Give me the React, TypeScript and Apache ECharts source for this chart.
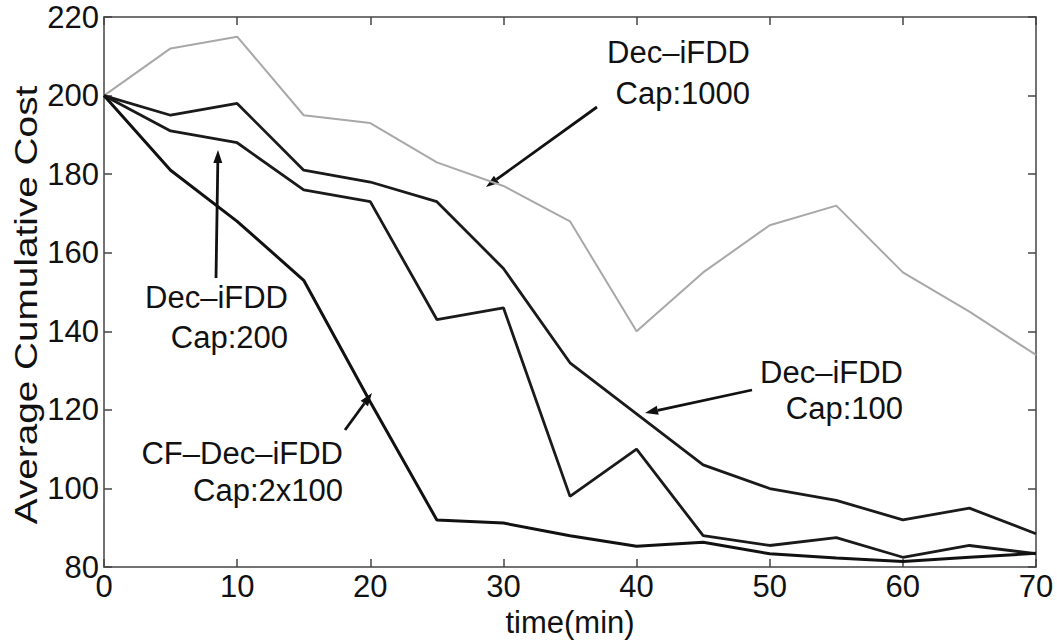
import React, { useEffect, useRef } from "react";
import * as echarts from "echarts";

const times = [0, 5, 10, 15, 20, 25, 30, 35, 40, 45, 50, 55, 60, 65, 70];
const cap1000 = [200, 212, 215, 195, 193, 183, 177, 168, 140, 155, 167, 172, 155, 145, 134];
const cap100 = [200, 195, 198, 181, 178, 173, 156, 132, 119, 106, 100, 97, 92, 95, 88.5];
const cap200 = [200, 191, 188, 176, 173, 143, 146, 98, 110, 88, 85.5, 87.5, 82.5, 85.5, 83.4];
const cf2x100 = [200, 181, 168, 153, 122, 92, 91.2, 88, 85.3, 86.3, 83.4, 82.3, 81.4, 82.5, 83.5];

const xTicks = [0, 10, 20, 30, 40, 50, 60, 70];
const yTicks = [80, 100, 120, 140, 160, 180, 200, 220];

const FONT = "Liberation Sans, Arial, Helvetica, sans-serif";
const FS = 31;

function arrow(x1: number, y1: number, x2: number, y2: number) {
  const dx = x2 - x1, dy = y2 - y1;
  const len = Math.sqrt(dx * dx + dy * dy);
  const ux = dx / len, uy = dy / len;
  const hl = 13, hw = 4.5;
  const bx = x2 - ux * hl, by = y2 - uy * hl;
  return [
    {
      type: "line",
      shape: { x1, y1, x2: bx, y2: by },
      style: { stroke: "#111", lineWidth: 2.8 },
    },
    {
      type: "polygon",
      shape: {
        points: [
          [x2, y2],
          [bx - uy * hw, by + ux * hw],
          [bx + uy * hw, by - ux * hw],
        ],
      },
      style: { fill: "#111" },
    },
  ];
}

function label(right: number, y1: number, y2: number, l1: string, l2: string) {
  return [
    { type: "text", x: right, y: y1, style: { text: l1, font: `${FS}px ${FONT}`, fill: "#111", align: "right", verticalAlign: "middle" } },
    { type: "text", x: right, y: y2, style: { text: l2, font: `${FS}px ${FONT}`, fill: "#111", align: "right", verticalAlign: "middle" } },
  ];
}

export default function App() {
  const ref = useRef<HTMLDivElement>(null);
  useEffect(() => {
    if (!ref.current) return;
    const chart = echarts.init(ref.current, null, { renderer: "svg" });
    const axisCommon = {
      axisLine: { show: true, onZero: false, lineStyle: { color: "#444", width: 1.5 } },
      axisTick: { show: true, inside: true, length: 8, lineStyle: { color: "#444", width: 1.5 } },
      splitLine: { show: false },
    };
    const mk = (name: string, data: number[], color: string, width: number) => ({
      type: "line",
      name,
      data: times.map((t, i) => [t, data[i]]),
      showSymbol: false,
      symbol: "none",
      lineStyle: { color, width },
      itemStyle: { color },
      xAxisIndex: 0,
      yAxisIndex: 0,
    });
    chart.setOption({
      animation: false,
      backgroundColor: "#fff",
      grid: { left: 104, top: 17, width: 932, height: 559 },
      xAxis: [
        {
          type: "value", min: 0, max: 70, interval: 10, position: "bottom",
          ...axisCommon,
          axisLabel: { color: "#111", fontSize: FS, fontFamily: FONT, margin: 4, formatter: (v: number) => (xTicks.includes(v) ? String(v) : "") },
          name: "time(min)", nameLocation: "middle", nameGap: 31,
          nameTextStyle: { color: "#111", fontSize: FS, fontFamily: FONT },
        },
        {
          type: "value", min: 0, max: 70, interval: 10, position: "top",
          ...axisCommon,
          axisLabel: { show: false },
        },
      ],
      yAxis: [
        {
          type: "value", min: 80, max: 220, interval: 20, position: "left",
          ...axisCommon,
          axisLabel: { color: "#111", fontSize: FS, fontFamily: FONT, margin: 5, formatter: (v: number) => (yTicks.includes(v) ? String(v) : "") },
        },
        {
          type: "value", min: 80, max: 220, interval: 20, position: "right",
          ...axisCommon,
          axisLabel: { show: false },
        },
      ],
      series: [
        mk("Dec-iFDD Cap:1000", cap1000, "#a8a8a8", 2),
        mk("Dec-iFDD Cap:100", cap100, "#1a1a1a", 2.8),
        mk("Dec-iFDD Cap:200", cap200, "#1a1a1a", 2.8),
        mk("CF-Dec-iFDD Cap:2x100", cf2x100, "#111", 3),
      ],
      graphic: [
        {
          type: "text",
          x: 26,
          y: 305,
          rotation: Math.PI / 2,
          scaleX: 1.25,
          style: { text: "Average Cumulative Cost", font: `${FS}px ${FONT}`, fill: "#111", align: "center", verticalAlign: "middle" },
        },
        ...label(750, 52, 93, "Dec\u2013iFDD", "Cap:1000"),
        ...arrow(597, 107, 486, 187),
        ...label(288, 297, 337, "Dec\u2013iFDD", "Cap:200"),
        ...arrow(216, 278, 218, 150),
        ...label(903, 372, 408, "Dec\u2013iFDD", "Cap:100"),
        ...arrow(752, 390, 645, 413),
        ...label(343, 453, 490, "CF\u2013Dec\u2013iFDD", "Cap:2x100"),
        ...arrow(345, 430, 372, 393),
      ],
    });
    return () => chart.dispose();
  }, []);
  return <div ref={ref} style={{ width: 1057, height: 643, position: "absolute", left: 0, top: 0 }} />;
}
